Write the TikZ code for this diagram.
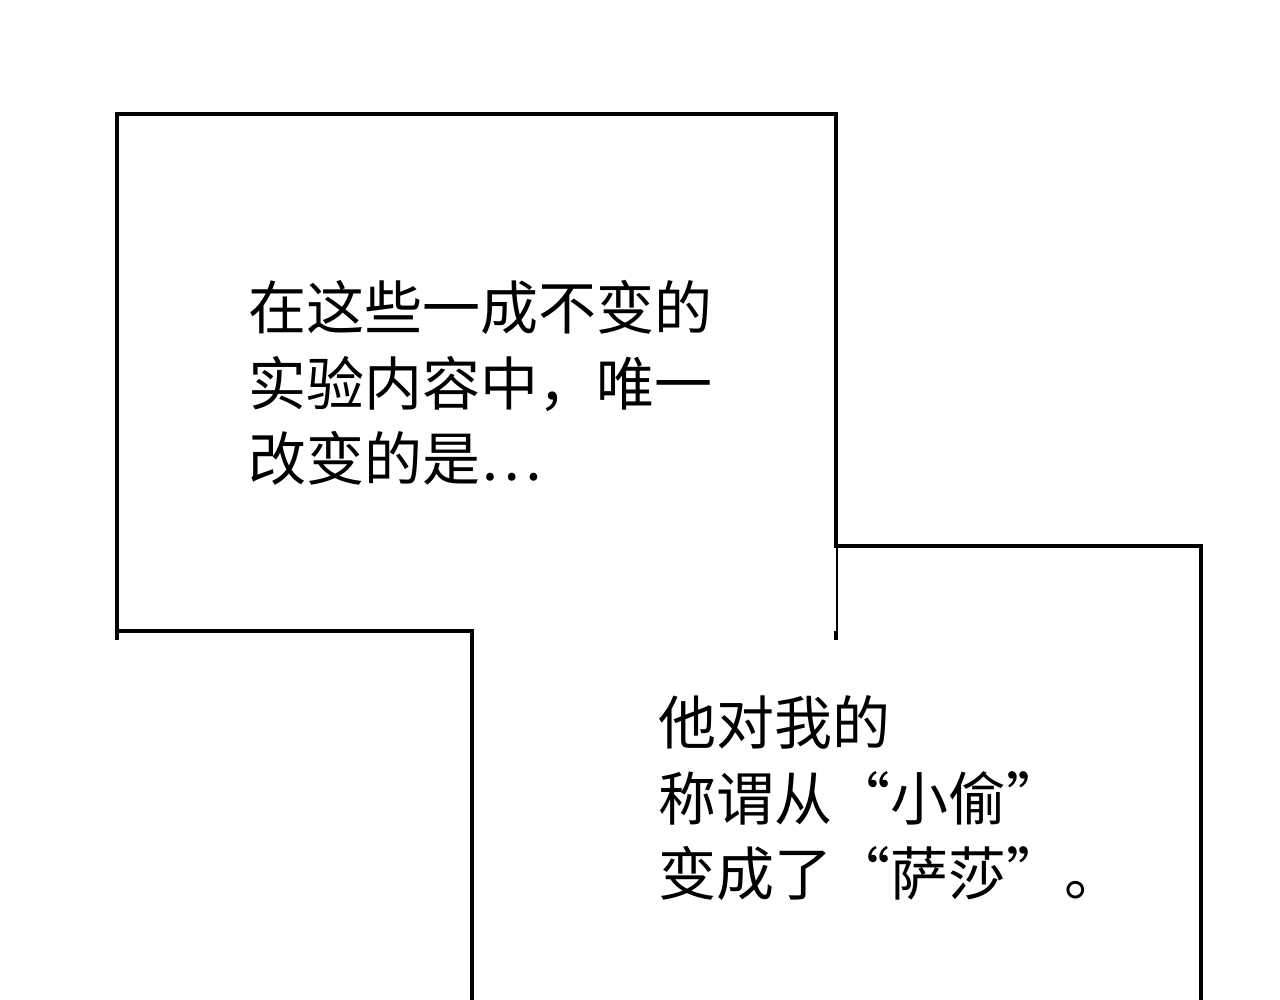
\documentclass[tikz,border=0pt]{standalone}
\usepackage{fontspec}
\newfontfamily\cjk{Noto Sans CJK SC}
\begin{document}
\begin{tikzpicture}[x=1pt,y=-1pt,
  txt/.style={anchor=base west,inner sep=0pt,font=\cjk\fontsize{58}{75}\selectfont},
  frame/.style={line width=4pt,fill=white}]
\useasboundingbox (0,0) rectangle (1280,1000);
\fill[white] (0,0) rectangle (1280,1000);
\draw[frame] (117,640) -- (117,114) -- (836,114) -- (836,640);
\fill[white] (117,114) rectangle (836,631);
\draw[line width=4pt] (117,114) -- (836,114) -- (836,546) -- (1201,546) -- (1201,1010);
\draw[line width=4pt] (117,114) -- (117,631) -- (472,631) -- (472,1010);
\node[txt] (a1) at (248,330) {在这些一成不变的};
\node[txt] (a2) at (248,405) {实验内容中，唯一};
\node[txt] (a3) at (248,480) {改变的是…};
\node[txt] (b1) at (658,744) {他对我的};
\node[txt] (b2) at (658,820) {称谓从“小偷”};
\node[txt] (b3) at (658,895) {变成了“萨莎”。};
\end{tikzpicture}
\end{document}
